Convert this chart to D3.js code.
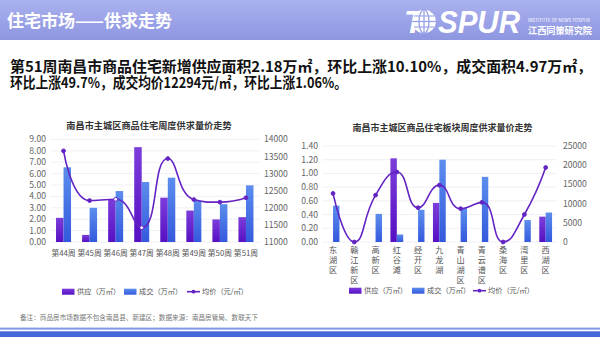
<!DOCTYPE html>
<html><head><meta charset="utf-8">
<script src="https://cdn.jsdelivr.net/npm/d3@7"></script>
<style>
body{margin:0;background:#fff}
svg{display:block;font-family:"Noto Sans CJK SC","Noto Sans",sans-serif}
.vlab{writing-mode:vertical-rl;text-orientation:upright}
</style>
</head><body>
<svg id="c" width="600" height="337"></svg>
<script>
// Weekly supply / deal / price, main urban area
const weeks = ["第44周","第45周","第46周","第47周","第48周","第49周","第50周","第51周"];
const weekSupply = [2.12, 0.62, 3.75, 8.32, 3.89, 2.76, 1.98, 2.18];
const weekDeal   = [6.55, 3.00, 4.47, 5.26, 5.64, 3.62, 3.32, 4.97];
const weekPrice  = [13665, 12212, 12248, 11418, 13440, 12240, 12165, 12294];
const weekAreaTicks  = [0,1,2,3,4,5,6,7,8,9];
const weekPriceTicks = [11000,11500,12000,12500,13000,13500,14000];

// Per-district figures for week 51
const districts = ["东湖区","赣江新区","高新区","红谷滩","经开区","九龙湖","青山湖区","青云谱区","桑海区","湾里区","西湖区"];
const distSupply = [0, 0, 0, 1.22, 0, 0.57, 0, 0, 0, 0, 0.37];
const distDeal   = [0.53, 0, 0.41, 0.11, 0.47, 1.20, 0.49, 0.95, 0, 0.32, 0.43];
const distPrice  = [12650, 0, 12200, 18230, 8930, 14800, 8680, 10330, 0, 7160, 19400];
const distAreaTicks  = [0,0.2,0.4,0.6,0.8,1.0,1.2,1.4];
const distPriceTicks = [0,5000,10000,15000,20000,25000];

const legendNames = ["供应（万㎡）","成交（万㎡）","均价（元/㎡）"];

const svg = d3.select("#c");
const defs = svg.append("defs");

// gradients
function vgrad(id, top, bottom){
  const g = defs.append("linearGradient").attr("id", id).attr("x1",0).attr("y1",0).attr("x2",0).attr("y2",1);
  g.append("stop").attr("offset","0%").attr("stop-color",top);
  g.append("stop").attr("offset","100%").attr("stop-color",bottom);
}
vgrad("hdr", "#aab1ef", "#8e96e0");
vgrad("gSupply", "#7d3ddb", "#5510c2");
vgrad("gDeal", "#5c8ded", "#3459dd");

const LINE = "#6424c4";

// ---- header band ----
svg.append("rect").attr("x",0).attr("y",0).attr("width",600).attr("height",40).attr("fill","url(#hdr)");
svg.append("text").attr("x",7).attr("y",27).attr("fill","#fff").attr("font-size",17).attr("font-weight",700)
  .text("住宅市场——供求走势");

// logo
const logo = svg.append("g");
logo.append("text").attr("x",404).attr("y",33).attr("fill","#fff").attr("font-size",32)
  .attr("font-weight",700).attr("font-style","italic").attr("font-family","Liberation Sans, Arial, sans-serif").text("T");
const globe = logo.append("g").attr("transform","translate(424,21.5)");
globe.append("circle").attr("r",11.8).attr("fill","#fff");
globe.append("ellipse").attr("rx",5).attr("ry",11.8).attr("fill","none").attr("stroke","#9aa1e6").attr("stroke-width",1.3);
globe.append("line").attr("x1",0).attr("x2",0).attr("y1",-11.8).attr("y2",11.8).attr("stroke","#9aa1e6").attr("stroke-width",1.3);
globe.append("line").attr("x1",-11.8).attr("x2",11.8).attr("y1",0).attr("y2",0).attr("stroke","#9aa1e6").attr("stroke-width",1.3);
globe.append("line").attr("x1",-10).attr("x2",10).attr("y1",-5.5).attr("y2",-5.5).attr("stroke","#9aa1e6").attr("stroke-width",1.1);
globe.append("line").attr("x1",-10).attr("x2",10).attr("y1",5.5).attr("y2",5.5).attr("stroke","#9aa1e6").attr("stroke-width",1.1);
logo.append("text").attr("x",438).attr("y",33).attr("fill","#fff").attr("font-size",32)
  .attr("font-weight",700).attr("font-style","italic").attr("font-family","Liberation Sans, Arial, sans-serif")
  .attr("textLength",82).attr("lengthAdjust","spacingAndGlyphs").text("SPUR");
logo.append("text").attr("x",528).attr("y",22).attr("fill","#fff").attr("font-size",4.5)
  .attr("textLength",62).attr("lengthAdjust","spacingAndGlyphs").text("INSTITUTE OF NEWS TOSPUR");
logo.append("text").attr("x",528).attr("y",34).attr("fill","#fff").attr("font-size",9.5).attr("font-weight",700)
  .attr("textLength",64).attr("lengthAdjust","spacingAndGlyphs").text("江西同策研究院");

// ---- summary text ----
svg.append("text").attr("x",10).attr("y",71.5).attr("font-size",14.6).attr("font-weight",700).attr("fill","#111")
  .attr("textLength",582).attr("lengthAdjust","spacingAndGlyphs")
  .text("第51周南昌市商品住宅新增供应面积2.18万㎡，环比上涨10.10%，成交面积4.97万㎡，");
svg.append("text").attr("x",10).attr("y",87.5).attr("font-size",14.6).attr("font-weight",700).attr("fill","#111")
  .attr("textLength",337).attr("lengthAdjust","spacingAndGlyphs")
  .text("环比上涨49.7%，成交均价12294元/㎡，环比上涨1.06%。");

// ECharts-style smoothed polyline through screen points
function clamp(v, a, b){ return Math.max(Math.min(a,b), Math.min(Math.max(a,b), v)); }
function smoothPath(pts, smooth){
  const p = d3.path();
  let prevX = pts[0][0], prevY = pts[0][1];
  let cpx0 = prevX, cpy0 = prevY;
  p.moveTo(prevX, prevY);
  const n = pts.length;
  for (let k = 1; k < n; k++){
    const x = pts[k][0], y = pts[k][1];
    if (k === n - 1){ p.bezierCurveTo(cpx0, cpy0, x, y, x, y); break; }
    const nextX = pts[k+1][0], nextY = pts[k+1][1];
    let vx = nextX - prevX, vy = nextY - prevY;
    const lenPrev = Math.hypot(x - prevX, y - prevY);
    const lenNext = Math.hypot(nextX - x, nextY - y);
    const ratio = lenNext / (lenNext + lenPrev);
    let ncx = clamp(x + vx * smooth * ratio, x, nextX);
    let ncy = clamp(y + vy * smooth * ratio, y, nextY);
    vx = ncx - x; vy = ncy - y;
    let cpx1 = clamp(x - vx * lenPrev / lenNext, prevX, x);
    let cpy1 = clamp(y - vy * lenPrev / lenNext, prevY, y);
    vx = x - cpx1; vy = y - cpy1;
    ncx = x + vx * lenNext / lenPrev; ncy = y + vy * lenNext / lenPrev;
    p.bezierCurveTo(cpx0, cpy0, cpx1, cpy1, x, y);
    cpx0 = ncx; cpy0 = ncy; prevX = x; prevY = y;
  }
  return p.toString();
}

function drawChart(cfg){
  const g = svg.append("g");
  const x = d3.scaleBand().domain(cfg.cats).range([cfg.x0, cfg.x1]);
  const yL = d3.scaleLinear().domain(cfg.yDom).range([cfg.yb, cfg.yt]);
  const yR = d3.scaleLinear().domain(cfg.pDom).range([cfg.yb, cfg.yt]);

  // title
  g.append("text").attr("x",cfg.titleX).attr("y",cfg.titleY).attr("text-anchor","middle")
    .attr("font-size",cfg.titleSize).attr("font-weight",700).attr("fill","#333").text(cfg.title);

  // grid + axis labels
  g.selectAll("line.grid").data(cfg.yTicks).join("line")
    .attr("x1",cfg.x0).attr("x2",cfg.x1).attr("y1",d=>yL(d)).attr("y2",d=>yL(d))
    .attr("stroke","#ececf2").attr("stroke-width",0.8);
  g.selectAll("text.yl").data(cfg.yTicks).join("text")
    .attr("x",cfg.yLabelX).attr("y",d=>yL(d)).attr("dy","0.35em").attr("text-anchor","end")
    .attr("font-size",8.6).attr("fill","#666").text(d=>d.toFixed(2));
  g.selectAll("text.yr").data(cfg.pTicks).join("text")
    .attr("x",cfg.pLabelX).attr("y",d=>yR(d)).attr("dy","0.35em").attr("text-anchor","start")
    .attr("font-size",8.6).attr("fill","#666").text(d=>d);

  const bw = cfg.barW;
  const cx = c => x(c) + x.bandwidth()/2;
  g.selectAll("rect.s").data(cfg.cats.map((c,i)=>({c,v:cfg.supply[i]}))).join("rect")
    .attr("x",d=>cx(d.c)-bw).attr("width",bw)
    .attr("y",d=>yL(d.v)).attr("height",d=>yL(0)-yL(d.v)).attr("fill","url(#gSupply)");
  g.selectAll("rect.d").data(cfg.cats.map((c,i)=>({c,v:cfg.deal[i]}))).join("rect")
    .attr("x",d=>cx(d.c)).attr("width",bw)
    .attr("y",d=>yL(d.v)).attr("height",d=>yL(0)-yL(d.v)).attr("fill","url(#gDeal)");

  // price line
  const pts = cfg.cats.map((c,i)=>[cx(c), yR(cfg.price[i])]);
  g.append("path").attr("d", smoothPath(pts, 0.5)).attr("fill","none")
    .attr("stroke",LINE).attr("stroke-width",1.6);
  g.selectAll("circle.p").data(pts).join("circle")
    .attr("cx",d=>d[0]).attr("cy",d=>d[1]).attr("r",1.9)
    .attr("fill",(d,i)=>cfg.hollow && cfg.hollow.includes(i) ? "#fff" : LINE)
    .attr("stroke",LINE).attr("stroke-width",1);

  // category labels
  if (cfg.vertical){
    g.selectAll("text.cat").data(cfg.cats).join("text")
      .attr("class","vlab")
      .attr("x",d=>cx(d)).attr("y",cfg.catY).attr("text-anchor","start")
      .attr("font-size",8.2).attr("letter-spacing",1.8).attr("fill","#555").text(d=>d);
  } else {
    g.selectAll("text.cat").data(cfg.cats).join("text")
      .attr("x",d=>cx(d)).attr("y",cfg.catY).attr("text-anchor","middle")
      .attr("font-size",7.8).attr("fill","#555").text(d=>d);
  }

  // legend
  const L = cfg.legend;
  const lg = g.append("g").attr("font-size",7.2).attr("fill","#555");
  lg.append("rect").attr("x",L[0]).attr("y",cfg.legY-3).attr("width",12.5).attr("height",6).attr("fill","url(#gSupply)");
  lg.append("text").attr("x",L[0]+15).attr("y",cfg.legY).attr("dy","0.35em").text(legendNames[0]);
  lg.append("rect").attr("x",L[1]).attr("y",cfg.legY-3).attr("width",12.5).attr("height",6).attr("fill","url(#gDeal)");
  lg.append("text").attr("x",L[1]+15).attr("y",cfg.legY).attr("dy","0.35em").text(legendNames[1]);
  lg.append("line").attr("x1",L[2]).attr("x2",L[2]+13).attr("y1",cfg.legY).attr("y2",cfg.legY)
    .attr("stroke",LINE).attr("stroke-width",1.6);
  lg.append("circle").attr("cx",L[2]+6.5).attr("cy",cfg.legY).attr("r",1.9).attr("fill",LINE);
  lg.append("text").attr("x",L[2]+15).attr("y",cfg.legY).attr("dy","0.35em").text(legendNames[2]);
}

drawChart({
  cats: weeks, supply: weekSupply, deal: weekDeal, price: weekPrice,
  x0: 50.5, x1: 259, yb: 242, yt: 139.4,
  yDom: [0,9], pDom: [11000,14000], yTicks: weekAreaTicks, pTicks: weekPriceTicks,
  yLabelX: 46, pLabelX: 264, barW: 7.5,
  title: "南昌市主城区商品住宅周度供求量价走势", titleX: 149, titleY: 128.5, titleSize: 9.2,
  catY: 255.5, vertical: false, hollow: [2,3],
  legend: [62, 124, 187], legY: 291.7
});

drawChart({
  cats: districts, supply: distSupply, deal: distDeal, price: distPrice,
  x0: 322.4, x1: 556.3, yb: 242, yt: 146,
  yDom: [0,1.4], pDom: [0,25000], yTicks: distAreaTicks, pTicks: distPriceTicks,
  yLabelX: 318, pLabelX: 563, barW: 6.4,
  title: "南昌市主城区商品住宅板块周度供求量价走势", titleX: 442.5, titleY: 130.5, titleSize: 9,
  catY: 246, vertical: true,
  legend: [349, 412, 473], legY: 290.7
});

// ---- footer ----
svg.append("text").attr("x",20).attr("y",319.5).attr("font-size",6.6).attr("fill","#777")
  .attr("textLength",238).attr("lengthAdjust","spacingAndGlyphs")
  .text("备注：商品房市场数据不包含南昌县、新建区；数据来源：南昌房管局、数联天下");
svg.append("rect").attr("x",0).attr("y",327.6).attr("width",600).attr("height",2).attr("fill","#7d98e6");
svg.append("rect").attr("x",0).attr("y",331.3).attr("width",600).attr("height",6).attr("fill","#4468d9");
</script>
</body></html>
